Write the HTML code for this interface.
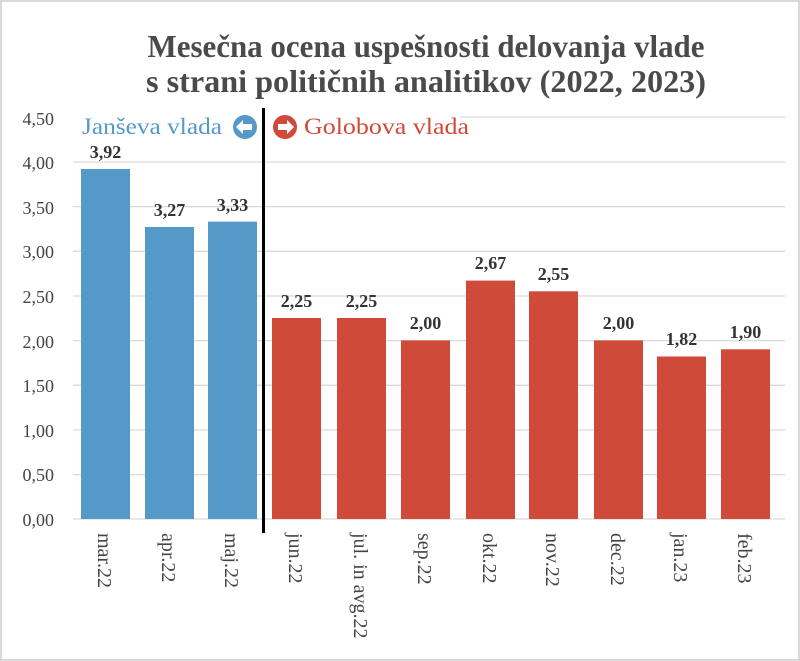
<!DOCTYPE html>
<html><head><meta charset="utf-8"><style>
html,body{margin:0;padding:0;background:#fff}
svg{display:block}
text{font-family:"Liberation Serif",serif}
</style></head><body>
<svg width="800" height="661" viewBox="0 0 800 661" xmlns="http://www.w3.org/2000/svg">
<rect x="1" y="1" width="798" height="659" fill="#fff" stroke="#d9d9d9" stroke-width="2"/>
<text x="426" y="57" text-anchor="middle" font-size="32" font-weight="bold" fill="#4a4a4a" textLength="557" lengthAdjust="spacingAndGlyphs">Mesečna ocena uspešnosti delovanja vlade</text>
<text x="426" y="92" text-anchor="middle" font-size="32" font-weight="bold" fill="#4a4a4a" textLength="560" lengthAdjust="spacingAndGlyphs">s strani političnih analitikov (2022, 2023)</text>
<g stroke="#d9d9d9" stroke-width="1.3">
<line x1="460" y1="117" x2="785" y2="117"/>
<line x1="73" y1="162" x2="785" y2="162"/>
<line x1="73" y1="206.6" x2="785" y2="206.6"/>
<line x1="73" y1="251.3" x2="785" y2="251.3"/>
<line x1="73" y1="296" x2="785" y2="296"/>
<line x1="73" y1="340.6" x2="785" y2="340.6"/>
<line x1="73" y1="385.3" x2="785" y2="385.3"/>
<line x1="73" y1="430" x2="785" y2="430"/>
<line x1="73" y1="474.6" x2="785" y2="474.6"/>
<line x1="73" y1="519" x2="785" y2="519"/>
</g>
<g font-size="18" fill="#444" text-anchor="end">
<text x="54" y="125">4,50</text>
<text x="54" y="169">4,00</text>
<text x="54" y="214">3,50</text>
<text x="54" y="258">3,00</text>
<text x="54" y="303">2,50</text>
<text x="54" y="348">2,00</text>
<text x="54" y="392">1,50</text>
<text x="54" y="437">1,00</text>
<text x="54" y="481">0,50</text>
<text x="54" y="526">0,00</text>
</g>
<g fill="#5599c8">
<rect x="81" y="169" width="49" height="350"/>
<rect x="145" y="227" width="49" height="292"/>
<rect x="208" y="221.6" width="49" height="297.4"/>
</g>
<g fill="#d04a3a">
<rect x="272" y="318" width="49" height="201"/>
<rect x="337" y="318" width="49" height="201"/>
<rect x="401" y="340.4" width="49" height="178.6"/>
<rect x="466" y="280.6" width="49" height="238.4"/>
<rect x="529" y="291.3" width="49" height="227.7"/>
<rect x="594" y="340.4" width="49" height="178.6"/>
<rect x="657" y="356.5" width="49" height="162.5"/>
<rect x="721" y="349.3" width="49" height="169.7"/>
</g>
<g font-size="18" font-weight="bold" fill="#333" text-anchor="middle">
<text x="105.5" y="158">3,92</text>
<text x="169.5" y="216">3,27</text>
<text x="232.5" y="211">3,33</text>
<text x="296.5" y="307">2,25</text>
<text x="361.5" y="307">2,25</text>
<text x="425.5" y="329">2,00</text>
<text x="490.5" y="269">2,67</text>
<text x="553.5" y="280">2,55</text>
<text x="618.5" y="329">2,00</text>
<text x="681.5" y="345">1,82</text>
<text x="745.5" y="338">1,90</text>
</g>
<g font-size="20" fill="#444">
<text transform="translate(98,533) rotate(90)">mar.22</text>
<text transform="translate(162,533) rotate(90)">apr.22</text>
<text transform="translate(225,533) rotate(90)">maj.22</text>
<text transform="translate(289,533) rotate(90)">jun.22</text>
<text transform="translate(354,533) rotate(90)">jul. in avg.22</text>
<text transform="translate(418,533) rotate(90)">sep.22</text>
<text transform="translate(483,533) rotate(90)">okt.22</text>
<text transform="translate(546,533) rotate(90)">nov.22</text>
<text transform="translate(611,533) rotate(90)">dec.22</text>
<text transform="translate(674,533) rotate(90)">jan.23</text>
<text transform="translate(738,533) rotate(90)">feb.23</text>
</g>
<line x1="263.5" y1="108" x2="263.5" y2="533" stroke="#000" stroke-width="3"/>
<text x="82" y="134" font-size="23" fill="#5599c8" textLength="140" lengthAdjust="spacingAndGlyphs">Janševa vlada</text>
<circle cx="245" cy="127" r="12" fill="#5599c8"/>
<polygon points="236,127 243,120 243,124 252,124 252,130 243,130 243,134" fill="#fff"/>
<circle cx="285" cy="127" r="12" fill="#d04a3a"/>
<polygon points="294,127 287,120 287,124 278,124 278,130 287,130 287,134" fill="#fff"/>
<text x="304" y="134" font-size="23" fill="#d04a3a" textLength="165" lengthAdjust="spacingAndGlyphs">Golobova vlada</text>
</svg>
</body></html>
